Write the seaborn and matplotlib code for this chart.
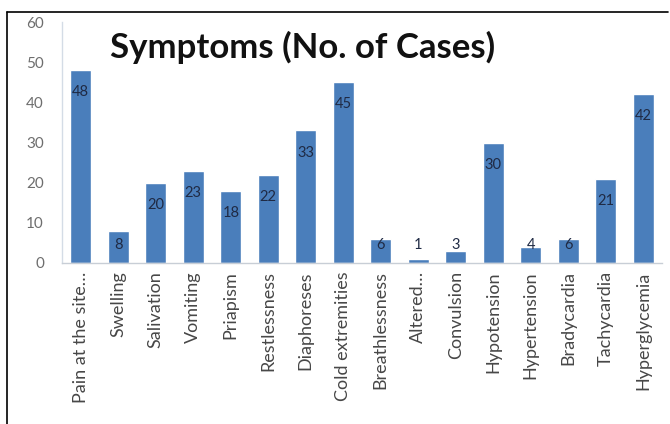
import matplotlib
matplotlib.use("Agg")
import matplotlib.pyplot as plt
from matplotlib.lines import Line2D
import seaborn as sns
import pandas as pd

symptoms = ["Pain at the site…", "Swelling", "Salivation", "Vomiting", "Priapism",
            "Restlessness", "Diaphoreses", "Cold extremities", "Breathlessness",
            "Altered…", "Convulsion", "Hypotension", "Hypertension", "Bradycardia",
            "Tachycardia", "Hyperglycemia"]
cases = [48, 8, 20, 23, 18, 22, 33, 45, 6, 1, 3, 30, 4, 6, 21, 42]
y_ticks = [0, 10, 20, 30, 40, 50, 60]
title = "Symptoms (No. of Cases)"

sns.set_theme(style="white")
plt.rcParams["font.family"] = ["Lato", "DejaVu Sans"]

df = pd.DataFrame({"Symptom": symptoms, "Cases": cases})

fig = plt.figure(figsize=(6.7, 4.24), dpi=100)
ax = fig.add_axes([62 / 670, 161 / 424, 600 / 670, 241 / 424])

sns.barplot(data=df, x="Symptom", y="Cases", color="#4A7EBB", width=0.55,
            saturation=1, ax=ax)

ax.set_ylim(0, 60)
ax.set_xlim(-0.5, len(symptoms) - 0.5)
ax.set_yticks(y_ticks)
ax.set_xlabel("")
ax.set_ylabel("")
ax.tick_params(axis="y", length=0, labelsize=11, labelcolor="#6E6E6E", pad=13)
ax.tick_params(axis="x", length=0, labelsize=13, labelcolor="#474747", pad=6)
for lab in ax.get_xticklabels():
    lab.set_rotation(90)

for side in ("top", "right"):
    ax.spines[side].set_visible(False)
ax.spines["left"].set_color("#D4DCE6")
ax.spines["bottom"].set_color("#C8CED6")
ax.spines["left"].set_linewidth(1.0)
ax.spines["bottom"].set_linewidth(1.0)

# value labels sit just inside the bar tops, lifted above very short bars
for i, v in enumerate(cases):
    ax.text(i, max(v - 5.5, 4.5), str(v), ha="center", va="center",
            fontsize=10.5, color="#1F2A44")

fig.text(0.451, 0.887, title, ha="center", va="center",
         fontsize=25, fontweight="bold", color="#111111")

# frame lines along the left and top edges
fig.add_artist(Line2D([7 / 670, 7 / 670], [0, 1 - 12 / 424], color="black", lw=1.2))
fig.add_artist(Line2D([7 / 670, 668 / 670], [1 - 12 / 424, 1 - 12 / 424], color="black", lw=1.2))

fig.savefig("out.png", dpi=100)
